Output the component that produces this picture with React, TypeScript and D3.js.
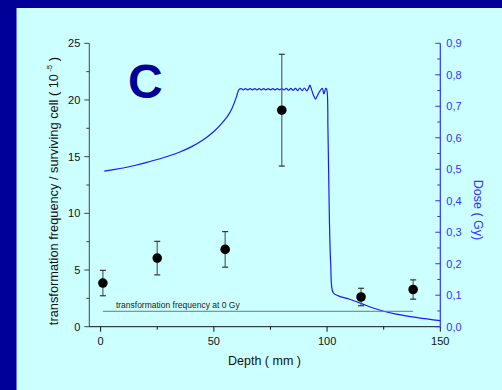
import React from "react";
import * as d3 from "d3";

// Transformation frequency measurements along depth
const depthPoints = [1, 25, 55, 80, 115, 138];
const freqValues = [3.85, 6.05, 6.82, 19.1, 2.62, 3.28];
const freqErrors = [1.12, 1.48, 1.57, 4.93, 0.77, 0.85];

// Background level (transformation frequency at 0 Gy)
const baselineLevel = 1.36;
const baselineRange = [1, 138];
const baselineLabel = "transformation frequency at 0 Gy";

// Depth–dose profile
const doseDepth = [
  1.6, 5, 10, 15, 20, 25, 30, 35, 40, 45, 50, 53, 56, 58, 60, 61,
  62, 63, 64, 65, 66, 67, 68, 69, 70, 71, 72, 73, 74, 75, 76, 77, 78, 79, 80,
  81, 82, 83, 84, 85, 86, 87, 88, 89, 90, 91, 91.8, 92.4, 93.2, 94, 94.9, 95.8,
  96.8, 97.9, 98.6, 99.4, 99.8, 100.4, 101, 101.6, 102.7, 105, 110, 115, 120,
  125, 130, 140, 150,
];
const doseValues = [
  0.494, 0.498, 0.504, 0.512, 0.521, 0.531, 0.542, 0.555, 0.571, 0.592, 0.62,
  0.642, 0.668, 0.693, 0.73, 0.752,
  0.756, 0.752, 0.756, 0.752, 0.756, 0.752, 0.756, 0.752, 0.756, 0.752, 0.756,
  0.752, 0.756, 0.752, 0.756, 0.752, 0.756, 0.752, 0.756, 0.752, 0.757, 0.751,
  0.757, 0.751, 0.757, 0.750, 0.758, 0.750, 0.758, 0.749, 0.757, 0.767, 0.752,
  0.735, 0.723, 0.735, 0.748, 0.757, 0.739, 0.757, 0.755, 0.62, 0.35, 0.2,
  0.108, 0.098, 0.087, 0.074, 0.06, 0.049, 0.041, 0.029, 0.019,
];

// Axis ticks
const xTicks = [0, 50, 100, 150];
const xMinorTicks = [25, 75, 125];
const yTicks = [0, 5, 10, 15, 20, 25];
const yMinorTicks = [2.5, 7.5, 12.5, 17.5, 22.5];
const doseTicks = [0, 0.1, 0.2, 0.3, 0.4, 0.5, 0.6, 0.7, 0.8, 0.9];
const doseMinorTicks = [0.05, 0.15, 0.25, 0.35, 0.45, 0.55, 0.65, 0.75, 0.85];

const W = 502;
const H = 390;
const left = 89.3;
const right = 440.3;
const top = 43.3;
const bottom = 326.7;

const FONT = "'Liberation Sans', Arial, sans-serif";
const NAVY = "#000099";
const PANEL = "#CCFFFF";
const DOSE_BLUE = "#1a1aff";
const AXIS_BLUE = "#3333ff";
const GREY = "#5f6f6f";

export default function App() {
  const x = d3.scaleLinear().domain([-5, 150]).range([left, right]);
  const y = d3.scaleLinear().domain([0, 25]).range([bottom, top]);
  const yDose = d3.scaleLinear().domain([0, 0.9]).range([bottom, top]);

  const doseLine = d3
    .line<number>()
    .x((_, i) => x(doseDepth[i]))
    .y((d) => yDose(d))
    .curve(d3.curveCatmullRom.alpha(0.5));

  const fmtDose = (v: number) => v.toFixed(1).replace(".", ",");

  return (
    <svg
      width={W}
      height={H}
      style={{ position: "absolute", left: 0, top: 0, display: "block" }}
      fontFamily={FONT}
    >
      <rect x={0} y={0} width={W} height={H} fill={NAVY} />
      <rect x={16} y={8} width={W - 16} height={H - 8} fill={PANEL} />
      <line x1={16.5} y1={8} x2={16.5} y2={H} stroke="#6677dd" strokeWidth={1} />

      {/* panel letter */}
      <text x={128} y={98} fontSize={48} fontWeight="bold" fill={NAVY}>
        C
      </text>

      {/* dose profile */}
      <path d={doseLine(doseValues) || ""} fill="none" stroke={DOSE_BLUE} strokeWidth={1.2} />

      {/* 0 Gy level */}
      <line
        x1={x(baselineRange[0])}
        x2={x(baselineRange[1])}
        y1={y(baselineLevel)}
        y2={y(baselineLevel)}
        stroke="#707878"
        strokeWidth={1}
      />
      <text x={x(baselineRange[0]) + 13} y={y(baselineLevel) - 3.5} fontSize={8.5} fill="#222">
        {baselineLabel}
      </text>

      {/* error bars and points */}
      {depthPoints.map((d, i) => {
        const cx = x(d);
        const y1 = y(freqValues[i] + freqErrors[i]);
        const y2 = y(freqValues[i] - freqErrors[i]);
        return (
          <g key={i}>
            <line x1={cx} x2={cx} y1={y1} y2={y2} stroke={GREY} strokeWidth={1.3} />
            <line x1={cx - 3} x2={cx + 3} y1={y1} y2={y1} stroke="#333" strokeWidth={1.2} />
            <line x1={cx - 3} x2={cx + 3} y1={y2} y2={y2} stroke="#333" strokeWidth={1.2} />
            <circle cx={cx} cy={y(freqValues[i])} r={4.8} fill="#000" />
          </g>
        );
      })}

      {/* left axis */}
      <line x1={left} x2={left} y1={top} y2={bottom} stroke="#444" strokeWidth={1} />
      {yTicks.map((t) => (
        <g key={t}>
          <line x1={left - 5} x2={left} y1={y(t)} y2={y(t)} stroke="#444" />
          <text x={left - 9} y={y(t) + 4} fontSize={11} textAnchor="end" fill="#111">
            {t}
          </text>
        </g>
      ))}
      {yMinorTicks.map((t) => (
        <line key={t} x1={left - 3} x2={left} y1={y(t)} y2={y(t)} stroke="#444" />
      ))}

      {/* bottom axis */}
      <line x1={left} x2={right} y1={bottom} y2={bottom} stroke="#111" strokeWidth={1} />
      {xTicks.map((t) => (
        <g key={t}>
          <line x1={x(t)} x2={x(t)} y1={bottom} y2={bottom + 5} stroke="#111" />
          <text x={x(t)} y={bottom + 18} fontSize={11} textAnchor="middle" fill="#111">
            {t}
          </text>
        </g>
      ))}
      {xMinorTicks.map((t) => (
        <line key={t} x1={x(t)} x2={x(t)} y1={bottom} y2={bottom + 3} stroke="#111" />
      ))}

      {/* right dose axis */}
      <line x1={right} x2={right} y1={top} y2={bottom} stroke={AXIS_BLUE} strokeWidth={1.2} />
      {doseTicks.map((t) => (
        <g key={t}>
          <line x1={right - 5} x2={right} y1={yDose(t)} y2={yDose(t)} stroke={AXIS_BLUE} />
          <text x={right + 6} y={yDose(t) + 4} fontSize={11} fill={AXIS_BLUE}>
            {fmtDose(t)}
          </text>
        </g>
      ))}
      {doseMinorTicks.map((t) => (
        <line key={t} x1={right - 3} x2={right} y1={yDose(t)} y2={yDose(t)} stroke={AXIS_BLUE} />
      ))}

      {/* axis titles */}
      <text x={264.5} y={365} fontSize={12.5} textAnchor="middle" fill="#111">
        Depth ( mm )
      </text>
      <text
        transform={`translate(58,${(top + bottom) / 2 + 6}) rotate(-90)`}
        fontSize={12.8}
        textAnchor="middle"
        fill="#111"
      >
        transformation frequency / surviving cell ( 10
        <tspan fontSize={8} dy={-6}> -5</tspan>
        <tspan dy={6}> )</tspan>
      </text>
      <text
        transform={`translate(474,210) rotate(90)`}
        fontSize={12.5}
        textAnchor="middle"
        fill={AXIS_BLUE}
      >
        Dose ( Gy)
      </text>
    </svg>
  );
}
